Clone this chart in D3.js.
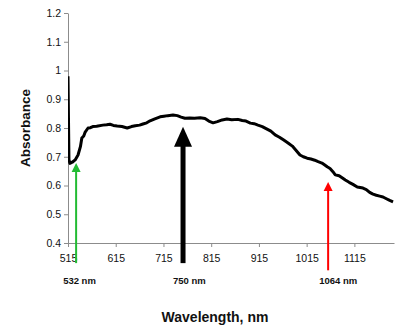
<!DOCTYPE html>
<html lang="en">
  <head>
    <meta charset="UTF-8" />
    <title>Absorbance spectrum</title>
    <script src="https://d3js.org/d3.v7.min.js"></script>
    <style>
      body {
        margin: 0;
        background: #fff;
        font-family: "Liberation Sans", Arial, sans-serif;
      }
    </style>
  </head>
  <body>
    <svg id="chart" width="419" height="333"></svg>
    <script>
      // Spectrum
      const wavelength = [515, 517, 519, 524, 530, 536, 541, 544, 548, 551, 557, 562, 567, 575, 588, 596, 603, 610, 618, 628, 639, 648, 656, 665, 672, 680, 687, 697, 708, 716, 724, 735, 744, 752, 760, 770, 780, 792, 802, 810, 819, 828, 838, 848, 858, 871, 880, 888, 897, 905, 913, 922, 930, 940, 949, 958, 967, 976, 985, 993, 1001, 1008, 1016, 1024, 1032, 1039, 1047, 1053, 1058, 1064, 1070, 1075, 1083, 1090, 1096, 1104, 1112, 1121, 1127, 1133, 1140, 1147, 1154, 1161, 1168, 1175, 1182, 1189, 1196];
      const absorbance = [0.98, 0.69, 0.677, 0.681, 0.689, 0.706, 0.735, 0.765, 0.772, 0.786, 0.800, 0.801, 0.805, 0.806, 0.810, 0.811, 0.813, 0.809, 0.807, 0.805, 0.800, 0.805, 0.808, 0.810, 0.814, 0.818, 0.825, 0.832, 0.839, 0.841, 0.843, 0.845, 0.843, 0.838, 0.834, 0.835, 0.834, 0.836, 0.833, 0.824, 0.818, 0.822, 0.828, 0.831, 0.829, 0.830, 0.826, 0.824, 0.817, 0.815, 0.810, 0.805, 0.798, 0.789, 0.776, 0.768, 0.758, 0.748, 0.737, 0.722, 0.706, 0.700, 0.695, 0.692, 0.688, 0.683, 0.678, 0.671, 0.665, 0.659, 0.648, 0.637, 0.634, 0.626, 0.619, 0.611, 0.604, 0.595, 0.593, 0.591, 0.586, 0.576, 0.570, 0.566, 0.563, 0.560, 0.554, 0.548, 0.543];

      const xTicks = [515, 615, 715, 815, 915, 1015, 1115];
      const yTicks = [0.4, 0.5, 0.6, 0.7, 0.8, 0.9, 1.0, 1.1, 1.2];

      // Laser lines marked under the curve
      const arrowAt = [532, 756, 1060];
      const arrowTip = [0.678, 0.804, 0.612];
      const arrowLabels = ["532 nm", "750 nm", "1064 nm"];
      const arrowColors = ["#22bb33", "#000000", "#ff0000"];

      const margin = { top: 13, right: 25, bottom: 90, left: 68 };
      const width = 419 - margin.left - margin.right;
      const height = 333 - margin.top - margin.bottom;

      const svg = d3
        .select("#chart")
        .append("g")
        .attr("transform", `translate(${margin.left},${margin.top})`);

      svg
        .append("clipPath")
        .attr("id", "plot-clip")
        .append("rect")
        .attr("x", 0)
        .attr("y", -5)
        .attr("width", width + 5)
        .attr("height", height + 5);

      const x = d3.scaleLinear().domain([515, 1198]).range([0, width]);
      const y = d3.scaleLinear().domain([0.4, 1.2]).range([height, 0]);

      // Axes
      const xAxis = svg
        .append("g")
        .attr("transform", `translate(0,${height})`)
        .call(d3.axisBottom(x).tickValues(xTicks).tickSize(4).tickSizeOuter(0).tickFormat(d3.format("d")));

      const yAxis = svg
        .append("g")
        .call(d3.axisLeft(y).tickValues(yTicks).tickSize(4).tickSizeOuter(0).tickFormat((d) => (d === 1 ? "1" : d3.format(".1f")(d))));

      [xAxis, yAxis].forEach((a) => {
        a.select(".domain").attr("stroke", "#8c8c8c");
        a.selectAll(".tick line").attr("stroke", "#8c8c8c");
        a.selectAll(".tick text")
          .attr("fill", "#111")
          .style("font-family", "Liberation Sans, Arial, sans-serif")
          .style("font-size", "10.5px");
      });
      xAxis.selectAll(".tick text").attr("dy", "1.1em");
      yAxis.selectAll(".tick text").attr("x", -7);

      // Spectrum
      const line = d3
        .line()
        .x((d, i) => x(wavelength[i]))
        .y((d) => y(d));

      svg
        .append("path")
        .datum(absorbance)
        .attr("clip-path", "url(#plot-clip)")
        .attr("fill", "none")
        .attr("stroke", "#000")
        .attr("stroke-width", 3)
        .attr("stroke-linejoin", "round")
        .attr("d", line);

      // Arrows
      const bottomVal = [0.33, 0.33, 0.305];
      const shaft = [2, 5, 2];
      const headW = [9, 18, 9];
      const headH = [9, 20, 9];

      arrowAt.forEach((wl, i) => {
        const cx = x(wl);
        const top = y(arrowTip[i]);
        const bot = y(bottomVal[i]);
        svg
          .append("line")
          .attr("x1", cx)
          .attr("x2", cx)
          .attr("y1", top + headH[i] - 1)
          .attr("y2", bot)
          .attr("stroke", arrowColors[i])
          .attr("stroke-width", shaft[i]);
        svg
          .append("path")
          .attr("d", `M${cx},${top} L${cx + headW[i] / 2},${top + headH[i]} L${cx - headW[i] / 2},${top + headH[i]} Z`)
          .attr("fill", arrowColors[i]);
        svg
          .append("text")
          .attr("x", cx + [-13, -10, -9][i])
          .attr("y", height + 41)
          .style("font-size", "9.5px")
          .style("font-weight", "bold")
          .attr("fill", "#111")
          .text(arrowLabels[i]);
      });

      // Axis titles
      svg
        .append("text")
        .attr("x", 147)
        .attr("y", height + 79)
        .attr("text-anchor", "middle")
        .style("font-size", "14px")
        .style("font-weight", "bold")
        .attr("fill", "#111")
        .text("Wavelength, nm");

      svg
        .append("text")
        .attr("transform", `translate(-38,${115}) rotate(-90)`)
        .attr("text-anchor", "middle")
        .style("font-size", "13.5px")
        .style("font-weight", "bold")
        .attr("fill", "#111")
        .text("Absorbance");
    </script>
  </body>
</html>
